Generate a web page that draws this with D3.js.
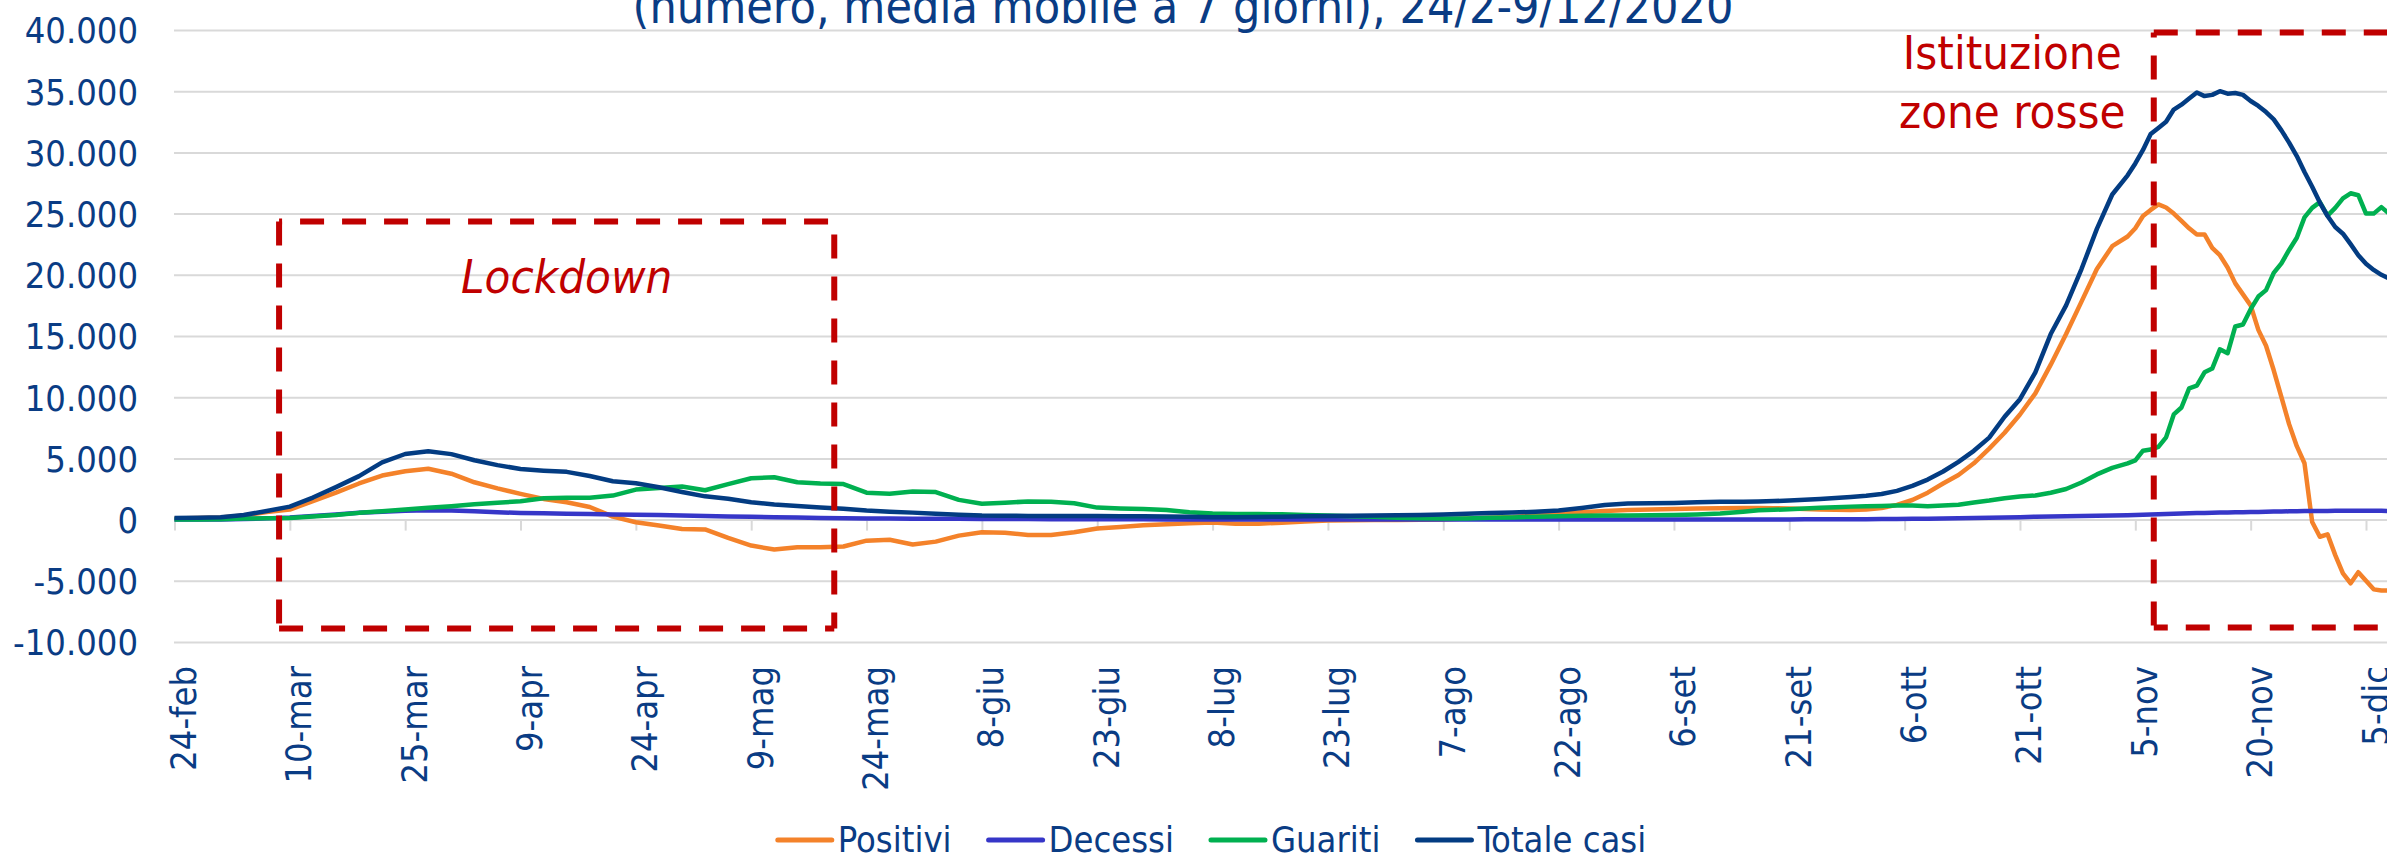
<!DOCTYPE html>
<html>
<head>
<meta charset="utf-8">
<script src="https://cdn.jsdelivr.net/npm/d3@7"></script>
<style>
  body { margin: 0; background: #fff; overflow: hidden; }
  svg { display: block; }
  text { font-family: "DejaVu Sans Condensed", "DejaVu Sans", sans-serif; font-stretch: condensed; }
</style>
</head>
<body>
<svg id="chart"></svg>
<script>
var width = 2387, height = 856

// giorni dal 24 febbraio 2020 (campionamento)
var giorni = d3.range(0, 205, 3).concat(d3.range(206, 255, 2), d3.range(255, 290))

var positivi = [
  100, 130, 180, 330, 620, 820, 1500, 2200, 2950, 3600,
  3950, 4150, 3750, 3050, 2550, 2100, 1690, 1420, 1030, 245,
  -220, -490, -760, -800, -1500, -2120, -2450, -2260, -2260, -2200,
  -1720, -1650, -2040, -1800, -1310, -1030, -1080, -1250, -1250, -1030,
  -720, -600, -470, -380, -300, -240, -330, -330, -250, -160,
  -80, -50, -30, -30, -10, 0, 80, 150, 220, 340,
  460, 600, 700, 780, 830, 870, 900, 930, 950,
  950, 930, 900, 870, 830, 800, 790, 830, 950, 1200,
  1600, 2200, 2950, 3650, 4600, 5800, 7100, 8590, 10310, 12660,
  15160, 17810, 20470, 22340, 23130,
  23800, 24800, 25300, 25750, 25500, 25000, 24400, 23800, 23300, 23300,
  22200, 21600, 20600, 19300, 18400, 17500, 15500, 14200, 12200, 10000,
  7800, 6000, 4600, -200, -1400, -1200, -2900, -4400, -5200, -4300,
  -5000, -5700, -5800, -5800, -5700
]

var decessi = [
  2, 5, 15, 40, 100, 170, 300, 420, 560, 650,
  720, 760, 740, 680, 600, 540, 510, 480, 450, 420,
  400, 370, 330, 300, 260, 230, 200, 170, 140, 110,
  95, 80, 70, 65, 60, 55, 45, 40, 35, 30,
  27, 25, 20, 17, 15, 13, 12, 10, 10, 10,
  9, 8, 8, 7, 7, 7, 7, 7, 8, 8,
  8, 9, 9, 10, 10, 11, 12, 13, 14,
  14, 15, 18, 20, 22, 25, 28, 32, 40, 50,
  60, 75, 90, 110, 130, 150, 180, 200, 230, 260,
  280, 300, 320, 340, 365,
  375, 395, 410, 430, 450, 470, 490, 510, 530, 545,
  560, 575, 590, 600, 610, 620, 630, 645, 655, 665,
  675, 685, 695, 700, 705, 710, 715, 718, 720, 722,
  722, 720, 715, 712, 710
]

var guariti = [
  5, 10, 30, 80, 110, 140, 250, 370, 550, 680,
  820, 960, 1090, 1250, 1380, 1500, 1740, 1780, 1780, 1960,
  2450, 2590, 2700, 2400, 2900, 3380, 3460, 3050, 2950, 2900,
  2200, 2120, 2300, 2250, 1610, 1300, 1380, 1480, 1450, 1330,
  980, 910, 860, 780, 600, 500, 460, 460, 430, 380,
  330, 280, 230, 160, 110, 80, 100, 150, 180, 230,
  270, 310, 330, 330, 350, 380, 420, 500, 640,
  760, 800, 840, 900, 960, 1010, 1060, 1090, 1120, 1150,
  1150, 1100, 1160, 1220, 1400, 1560, 1750, 1880, 1970, 2190,
  2500, 3030, 3690, 4220, 4590,
  4840, 5630, 5720, 5940, 6720, 8590, 9160, 10720, 10940, 12030,
  12340, 13910, 13590, 15780, 15940, 17190, 18220, 18750, 20160, 20940,
  22030, 23030, 24690, 25470, 25940, 24840, 25470, 26250, 26660, 26500,
  25000, 25000, 25530, 25000, 24800
]

var totaleCasi = [
  130, 150, 200, 380, 700, 1060, 1800, 2650, 3550, 4680,
  5360, 5580, 5350, 4850, 4450, 4140, 4000, 3900, 3560, 3130,
  2970, 2640, 2250, 1900, 1700, 1420, 1230, 1110, 980, 880,
  735, 650, 570, 480, 400, 330, 310, 300, 300, 300,
  300, 280, 265, 250, 230, 200, 195, 210, 240, 270,
  300, 320, 335, 350, 375, 410, 470, 540, 580, 640,
  735, 950, 1200, 1310, 1340, 1360, 1420, 1460, 1450,
  1470, 1510, 1560, 1620, 1690, 1760, 1850, 1940, 2090, 2350,
  2750, 3270, 3930, 4720, 5620, 6700, 8400, 9840, 12030, 15160,
  17500, 20470, 23750, 26560, 28130,
  29100, 30200, 31500, 32000, 32500, 33500, 33900, 34400, 34900, 34600,
  34700, 35000, 34800, 34850, 34700, 34200, 33800, 33300, 32700, 31800,
  30800, 29700, 28400, 27200, 25900, 24800, 23900, 23360, 22500, 21600,
  20900, 20400, 20000, 19700, 19400
]

var serie = ['Positivi', 'Decessi', 'Guariti', 'Totale casi']
var colori = ['#F4822A', '#3636C8', '#00B050', '#033C82']

var tickGiorni = [0, 15, 30, 45, 60, 75, 90, 105, 120, 135, 150, 165, 180, 195, 210, 225, 240, 255, 270, 285]
var tickLabels = ['24-feb', '10-mar', '25-mar', '9-apr', '24-apr', '9-mag', '24-mag', '8-giu', '23-giu', '8-lug',
  '23-lug', '7-ago', '22-ago', '6-set', '21-set', '6-ott', '21-ott', '5-nov', '20-nov', '5-dic']
var yTicks = [-10000, -5000, 0, 5000, 10000, 15000, 20000, 25000, 30000, 35000, 40000]

// riquadri: [giorno inizio, giorno fine, valore basso, valore alto]
var boxLockdown = [13.6, 85.8, -8900, 24350]
var boxZoneRosse = [257.4, 300, -8820, 39790]

var blu = '#0A3C84', rosso = '#C00000'

var itFormat = d3.formatLocale({decimal: ',', thousands: '.', grouping: [3], currency: ['€', ''], minus: '-'}).format(',')

var svg = d3.select('#chart').attr('width', width).attr('height', height)

var x = d3.scaleLinear().domain([0, 285]).range([174.5, 2366])
var y = d3.scaleLinear().domain([-10000, 40000]).range([642, 30])

// griglia + etichette asse y
var yAxis = svg.append('g')
  .attr('transform', 'translate(174,0)')
  .call(d3.axisLeft(y).tickValues(yTicks).tickSize(-(width - 174)).tickPadding(36).tickFormat(itFormat))
yAxis.select('.domain').remove()
yAxis.selectAll('.tick line').attr('stroke', '#D9D9D9').attr('stroke-width', 2)
yAxis.selectAll('.tick text')
  .attr('fill', blu).attr('font-size', 36).attr('dy', '0.36em')

// asse x
var xAxis = svg.append('g')
  .attr('transform', 'translate(0,' + y(0) + ')')
  .call(d3.axisBottom(x).tickValues(tickGiorni).tickSize(11).tickFormat(function (d, i) { return tickLabels[i] }))
xAxis.select('.domain').remove()
xAxis.selectAll('.tick line').attr('stroke', '#D9D9D9').attr('stroke-width', 2)
xAxis.selectAll('.tick text')
  .attr('fill', blu).attr('font-size', 36)
  .attr('transform', 'rotate(-90)')
  .attr('text-anchor', 'end')
  .attr('x', -(666 - y(0)))
  .attr('y', 21)
  .attr('dy', 0)

// linee
var valori = [positivi, decessi, guariti, totaleCasi]
var line = d3.line()
  .x(function (d, i) { return x(giorni[i]) })
  .y(function (d) { return y(d) })

svg.append('g').selectAll('path')
  .data(valori)
  .enter()
  .append('path')
  .attr('d', line)
  .attr('fill', 'none')
  .attr('stroke', function (d, i) { return colori[i] })
  .attr('stroke-width', 4.5)
  .attr('stroke-linejoin', 'round')

// riquadri tratteggiati, un lato alla volta per controllare la fase del tratteggio
function dashedBox(b, offs) {
  var x0 = x(b[0]), x1 = x(b[1]), yT = y(b[3]), yB = y(b[2])
  var sides = [
    [x0, yT, x0, yB, offs[0]],
    [x0, yT, x1, yT, offs[1]],
    [x0, yB, x1, yB, offs[2]],
    [x1, yT, x1, yB, offs[3]]
  ]
  svg.append('g').selectAll('line')
    .data(sides)
    .enter()
    .append('line')
    .attr('x1', function (d) { return d[0] })
    .attr('y1', function (d) { return d[1] })
    .attr('x2', function (d) { return d[2] })
    .attr('y2', function (d) { return d[3] })
    .attr('stroke', rosso)
    .attr('stroke-width', 6)
    .attr('stroke-dasharray', '24 18')
    .attr('stroke-dashoffset', function (d) { return d[4] })
}
dashedBox(boxLockdown, [0, 21, 0, 29])
dashedBox(boxZoneRosse, [19, 0, 10, 0])

// annotazioni
svg.append('text')
  .attr('x', x(51)).attr('y', y(18550))
  .attr('text-anchor', 'middle')
  .attr('font-size', 47).attr('font-style', 'italic')
  .attr('fill', rosso)
  .text('Lockdown')

svg.append('text')
  .attr('x', x(239)).attr('y', y(36850))
  .attr('text-anchor', 'middle')
  .attr('font-size', 47)
  .attr('fill', rosso)
  .text('Istituzione')

svg.append('text')
  .attr('x', x(239)).attr('y', y(32030))
  .attr('text-anchor', 'middle')
  .attr('font-size', 47)
  .attr('fill', rosso)
  .text('zone rosse')

// titolo (tagliato in alto come nel riferimento)
svg.append('text')
  .attr('x', 1183).attr('y', 23)
  .attr('text-anchor', 'middle')
  .attr('font-size', 48)
  .attr('fill', blu)
  .text('(numero, media mobile a 7 giorni), 24/2-9/12/2020')

// legenda
var legend = svg.append('g')
var lx = 0
serie.forEach(function (name, i) {
  var g = legend.append('g').attr('transform', 'translate(' + lx + ',0)')
  g.append('line')
    .attr('x1', 0).attr('x2', 54).attr('y1', 840).attr('y2', 840)
    .attr('stroke', colori[i]).attr('stroke-width', 5).attr('stroke-linecap', 'round')
  var t = g.append('text')
    .attr('x', 60).attr('y', 852)
    .attr('font-size', 36)
    .attr('fill', blu)
    .text(name)
  lx += 60 + t.node().getComputedTextLength() + 37
})
var legW = lx - 37
legend.attr('transform', 'translate(' + (1212 - legW / 2) + ',0)')
</script>
</body>
</html>
